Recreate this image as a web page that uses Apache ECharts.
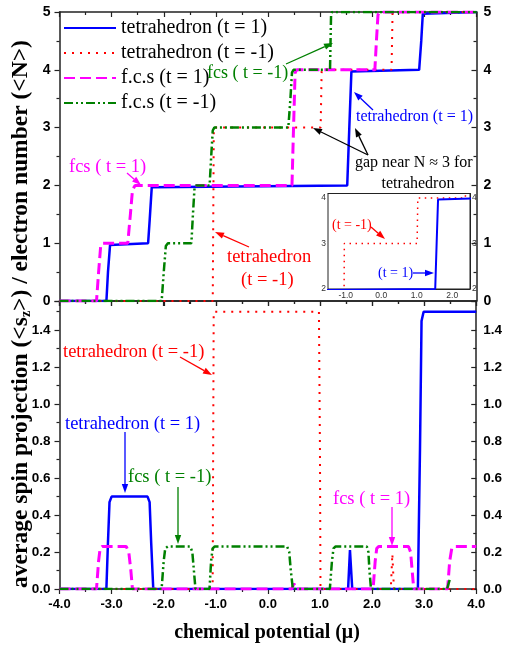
<!DOCTYPE html>
<html><head><meta charset="utf-8">
<script src="https://cdn.jsdelivr.net/npm/echarts@6/dist/echarts.min.js"></script>
<style>html,body{margin:0;padding:0;background:#fff}#c{width:505px;height:645px}</style>
</head><body><div id="c"></div><script>
// ---------- DATA ----------
const seriesNames = ['tetrahedron (t = 1)', 'tetrahedron (t = -1)', 'f.c.s (t = 1)', 'f.c.s (t = -1)'];

// top panel: electron number <N> vs chemical potential
const tetraT1N = [[-4,0],[-3.1,0],[-3.07,0.5],[-3.03,0.97],[-3.0,1],[-2.3,1],[-2.27,1.4],[-2.23,1.97],[-2.2,2],[1.52,2],[1.56,3],[1.6,3.97],[1.63,4],[2.9,4],[2.94,4.5],[2.97,4.97],[3.0,5],[4,5]];
const tetraTm1N = [[-4,0],[-1.06,0],[-1.05,1.5],[-1.04,3],[1.01,3],[1.02,3.5],[1.03,4],[2.37,4],[2.38,4.5],[2.39,5],[4,5]];
const fcsT1N = [[-4,0],[-3.29,0],[-3.25,0.5],[-3.21,0.95],[-3.17,1],[-2.69,1],[-2.64,1.5],[-2.6,1.92],[-2.55,2],[0.46,2],[0.49,3],[0.52,3.95],[0.55,4],[2.05,4],[2.08,4.5],[2.11,4.95],[2.14,5],[4,5]];
const fcsTm1N = [[-4,0],[-2.04,0],[-2.0,0.5],[-1.96,0.95],[-1.92,1],[-1.47,1],[-1.44,1.5],[-1.41,1.95],[-1.38,2],[-1.12,2],[-1.09,2.5],[-1.06,2.95],[-1.03,3],[0.39,3],[0.43,3.5],[0.46,3.95],[0.49,4],[1.19,4],[1.2,4.5],[1.21,4.95],[1.23,5],[4,5]];

// bottom panel: average spin projection <s_z>
const tetraT1S = [[-4,0],[-3.1,0],[-3.07,0.25],[-3.04,0.47],[-3.0,0.5],[-2.31,0.5],[-2.27,0.47],[-2.24,0.25],[-2.2,0],[1.54,0],[1.576,0.21],[1.62,0],[2.88,0],[2.92,0.75],[2.95,1.45],[2.99,1.5],[4,1.5]];
const tetraTm1S = [[-4,0],[-1.06,0],[-1.05,0.75],[-1.04,1.5],[0.98,1.5],[1.0,0.75],[1.01,0],[2.36,0],[2.39,0.19],[2.42,0],[4,0]];
const fcsT1S = [[-4,0],[-3.29,0],[-3.25,0.15],[-3.22,0.22],[-3.18,0.23],[-2.72,0.23],[-2.67,0.2],[-2.63,0.1],[-2.6,0],[0.46,0],[0.5,0.03],[0.54,0],[2.02,0],[2.06,0.15],[2.09,0.22],[2.13,0.23],[2.7,0.23],[2.74,0.2],[2.77,0.1],[2.8,0],[3.45,0],[3.49,0.15],[3.53,0.22],[3.58,0.23],[4,0.23]];
const fcsTm1S = [[-4,0],[-2.04,0],[-2.0,0.15],[-1.97,0.22],[-1.92,0.23],[-1.49,0.23],[-1.45,0.2],[-1.42,0.1],[-1.39,0],[-1.12,0],[-1.09,0.15],[-1.06,0.22],[-1.02,0.23],[0.37,0.23],[0.41,0.2],[0.44,0.1],[0.48,0],[1.19,0],[1.23,0.15],[1.26,0.22],[1.3,0.23],[1.9,0.23],[1.93,0.2],[1.95,0.1],[1.98,0],[3.44,0],[3.5,0.06]];

// axis ranges
const xRange = [-4, 4];
const nRange = [0, 5];
const sRange = [0, 1.558];
const insetX = [-1.5, 2.5];
const insetY = [2, 4.1];

// ---------- STYLE ----------
const lineStyles = [
  {color:'#0000ff', width:2.5, type:'solid'},
  {color:'#ff0000', width:2, type:[2,6]},
  {color:'#ff00ff', width:3, type:[11,5]},
  {color:'#008000', width:2.5, type:[9,3,2,3,2,3]}
];
const AX = '#222';
const serif = 'Liberation Serif';
const sans = 'Liberation Sans';

function mainX(grid, pos, labels, inside) {
  return {type:'value', gridIndex:grid, position:pos, min:xRange[0], max:xRange[1], interval:1,
    axisLine:{show:true, onZero:false, lineStyle:{color:AX, width:1.5}},
    axisTick:{show:true, inside:inside, length:5, lineStyle:{color:AX, width:1.2}},
    minorTick:{show:true, splitNumber:2, length:3, lineStyle:{color:AX, width:1.2}},
    splitLine:{show:false}, minorSplitLine:{show:false},
    axisLabel:{show:labels, formatter:v=>v.toFixed(1), fontFamily:sans, fontWeight:'bold', fontSize:13, color:'#000', margin:9}
  };
}
function mainY(grid, pos, range, interval, fmt, fs, inside, margin) {
  return {type:'value', gridIndex:grid, position:pos, min:range[0], max:range[1], interval:interval,
    axisLine:{show:true, onZero:false, lineStyle:{color:AX, width:1.5}},
    axisTick:{show:true, inside:inside, length:5, lineStyle:{color:AX, width:1.2}},
    minorTick:{show:true, splitNumber:2, length:3, lineStyle:{color:AX, width:1.2}},
    splitLine:{show:false}, minorSplitLine:{show:false},
    axisLabel:{show:true, formatter:fmt, fontFamily:sans, fontWeight:'bold', fontSize:fs, color:'#000', margin:margin}
  };
}
const intFmt = v => (Math.abs(v - Math.round(v)) < 1e-6) ? String(Math.round(v)) : '';
const sFmt = v => v > 1.45 ? '' : v.toFixed(1);
const insetXFmt = v => (Math.abs(v - Math.round(v)) < 1e-6) ? v.toFixed(1) : '';
const insetYFmt = v => (Math.abs(v - Math.round(v)) < 1e-6 && v <= 4) ? String(Math.round(v)) : '';

function insetAxis(pos, range, fmt) {
  return {type:'value', gridIndex:2, position:pos, min:range[0], max:range[1], interval:0.5,
    axisLine:{show:true, onZero:false, lineStyle:{color:AX, width:1}},
    axisTick:{show:true, inside:true, length:2.5, lineStyle:{color:AX, width:0.8}},
    splitLine:{show:false},
    axisLabel:{show:true, formatter:fmt, fontFamily:sans, fontSize:8.5, color:'#333', margin:2}
  };
}

const series = [];
const topData = [tetraT1N, tetraTm1N, fcsT1N, fcsTm1N];
const botData = [tetraT1S, tetraTm1S, fcsT1S, fcsTm1S];
for (let i = 0; i < 4; i++) {
  series.push({name:seriesNames[i], type:'line', xAxisIndex:0, yAxisIndex:0, data:topData[i], symbol:'none', showSymbol:false,
    lineStyle:lineStyles[i], itemStyle:{color:lineStyles[i].color}, z:2+i, animation:false});
}
for (let i = 0; i < 4; i++) {
  series.push({name:seriesNames[i], type:'line', xAxisIndex:2, yAxisIndex:2, data:botData[i], symbol:'none', showSymbol:false,
    lineStyle:lineStyles[i], itemStyle:{color:lineStyles[i].color}, z:2+i, animation:false});
}
// inset: zoom of the tetrahedron curves near N ~ 3
series.push({name:'inset t=-1', type:'line', xAxisIndex:4, yAxisIndex:4, data:tetraTm1N, symbol:'none', showSymbol:false,
  lineStyle:{color:'#ff0000', width:1.5, type:[1.5,4.5]}, z:10, animation:false, clip:true});
series.push({name:'inset t=1', type:'line', xAxisIndex:4, yAxisIndex:4, data:tetraT1N, symbol:'none', showSymbol:false,
  lineStyle:{color:'#0000ff', width:2}, z:10, animation:false, clip:true});

// ---------- ANNOTATIONS ----------
function txt(x, y, text, color, size, align) {
  return {type:'text', x:x, y:y, z:100, silent:true,
    style:{text:text, fill:color, fontFamily:serif, fontSize:size,
      textAlign:align||'left', textVerticalAlign:'middle', align:align||'left', verticalAlign:'middle'}};
}
function arrow(x1, y1, x2, y2, color) {
  const a = Math.atan2(y2-y1, x2-x1), L = 9, W = 3.2;
  const bx = x2 - L*Math.cos(a), by = y2 - L*Math.sin(a);
  const px = -Math.sin(a), py = Math.cos(a);
  return [
    {type:'line', z:100, silent:true, shape:{x1:x1, y1:y1, x2:bx, y2:by}, style:{stroke:color, lineWidth:1.3}},
    {type:'polygon', z:100, silent:true, shape:{points:[[x2,y2],[bx+W*px,by+W*py],[bx-W*px,by-W*py]]}, style:{fill:color}}
  ];
}
const G = '#008000', B = '#0000ff', R = '#ff0000', M = '#ff00ff', K = '#000';
const graphics = [
  txt(207, 73, 'fcs ( t = -1)', G, 18),
  ...arrow(286, 64, 333, 43, G),
  txt(356, 117, 'tetrahedron (t = 1)', B, 16),
  ...arrow(373, 110, 354, 92, B),
  txt(355, 163, 'gap near N \u2248 3 for', K, 16),
  txt(418, 184, 'tetrahedron', K, 16, 'center'),
  ...arrow(368, 155, 313, 128, K),
  ...arrow(368, 155, 355, 128, K),
  txt(69, 167, 'fcs ( t = 1)', M, 18.5),
  ...arrow(127, 173, 141, 185, M),
  txt(227, 257, 'tetrahedron', R, 18.5),
  txt(241, 280, '(t = -1)', R, 18.5),
  ...arrow(249, 247, 215, 232, R),
  txt(332, 225, '(t = -1)', R, 14),
  ...arrow(371, 227, 385, 239, R),
  txt(378, 273, '(t = 1)', B, 14),
  ...arrow(413, 273, 434, 273, B),
  txt(63, 352, 'tetrahedron (t = -1)', R, 18.5),
  ...arrow(180, 357, 212, 375, R),
  txt(65, 424, 'tetrahedron (t = 1)', B, 18.5),
  ...arrow(125, 432, 125, 493, B),
  txt(128, 477, 'fcs ( t = -1)', G, 18.5),
  ...arrow(178, 487, 178, 544, G),
  txt(333, 499, 'fcs ( t = 1)', M, 18.5),
  ...arrow(392, 507, 392, 546, M),
  // axis titles
  {type:'text', x:267, y:633, z:100, silent:true,
    style:{text:'chemical potential (\u03bc)', fill:'#000', fontFamily:serif, fontWeight:'bold', fontSize:20,
      textAlign:'center', textVerticalAlign:'middle', align:'center', verticalAlign:'middle'}},
  {type:'text', x:21, y:314, rotation:Math.PI/2, z:100, silent:true,
    style:{text:'{b|average spin projection (<s}{s|z}{b|>) / electron number (<N>)}',
      textAlign:'center', textVerticalAlign:'middle', align:'center', verticalAlign:'middle',
      rich:{
        b:{fontFamily:serif, fontWeight:'bold', fontSize:23.5, fill:'#000', color:'#000', lineHeight:26},
        s:{fontFamily:serif, fontWeight:'bold', fontSize:14, fill:'#000', color:'#000', padding:[11,0,0,0], lineHeight:14}
      }}}
];

const option = {
  animation:false,
  backgroundColor:'#fff',
  grid:[
    {left:59.5, top:12, width:417, height:289, containLabel:false},
    {left:59.5, top:301, width:417, height:288, containLabel:false},
    {left:328, top:193.5, width:142, height:95.5, containLabel:false, show:true, backgroundColor:'#fff', borderColor:AX, borderWidth:1, z:5}
  ],
  xAxis:[
    mainX(0, 'bottom', false, false),
    mainX(0, 'top', false, true),
    mainX(1, 'bottom', true, false),
    mainX(1, 'top', false, true),
    insetAxis('bottom', insetX, insetXFmt),
    Object.assign(insetAxis('top', insetX, v=>''), {axisTick:{show:false}, axisLabel:{show:false}})
  ],
  yAxis:[
    mainY(0, 'left', nRange, 1, intFmt, 14, false, 9),
    mainY(0, 'right', nRange, 1, intFmt, 14, true, 7),
    mainY(1, 'left', sRange, 0.2, sFmt, 13.5, false, 9),
    mainY(1, 'right', sRange, 0.2, sFmt, 13.5, true, 7),
    insetAxis('left', insetY, insetYFmt),
    insetAxis('right', insetY, insetYFmt)
  ],
  legend:{
    left:58, top:13, orient:'vertical', itemWidth:52, itemHeight:14, itemGap:5, selectedMode:false,
    data:seriesNames,
    itemStyle:{opacity:0},
    textStyle:{fontFamily:serif, fontSize:20, color:'#000'}
  },
  series:series,
  graphic:{elements:graphics}
};
const chart = echarts.init(document.getElementById('c'), null, {renderer:'canvas'});
chart.setOption(option);
</script></body></html>
